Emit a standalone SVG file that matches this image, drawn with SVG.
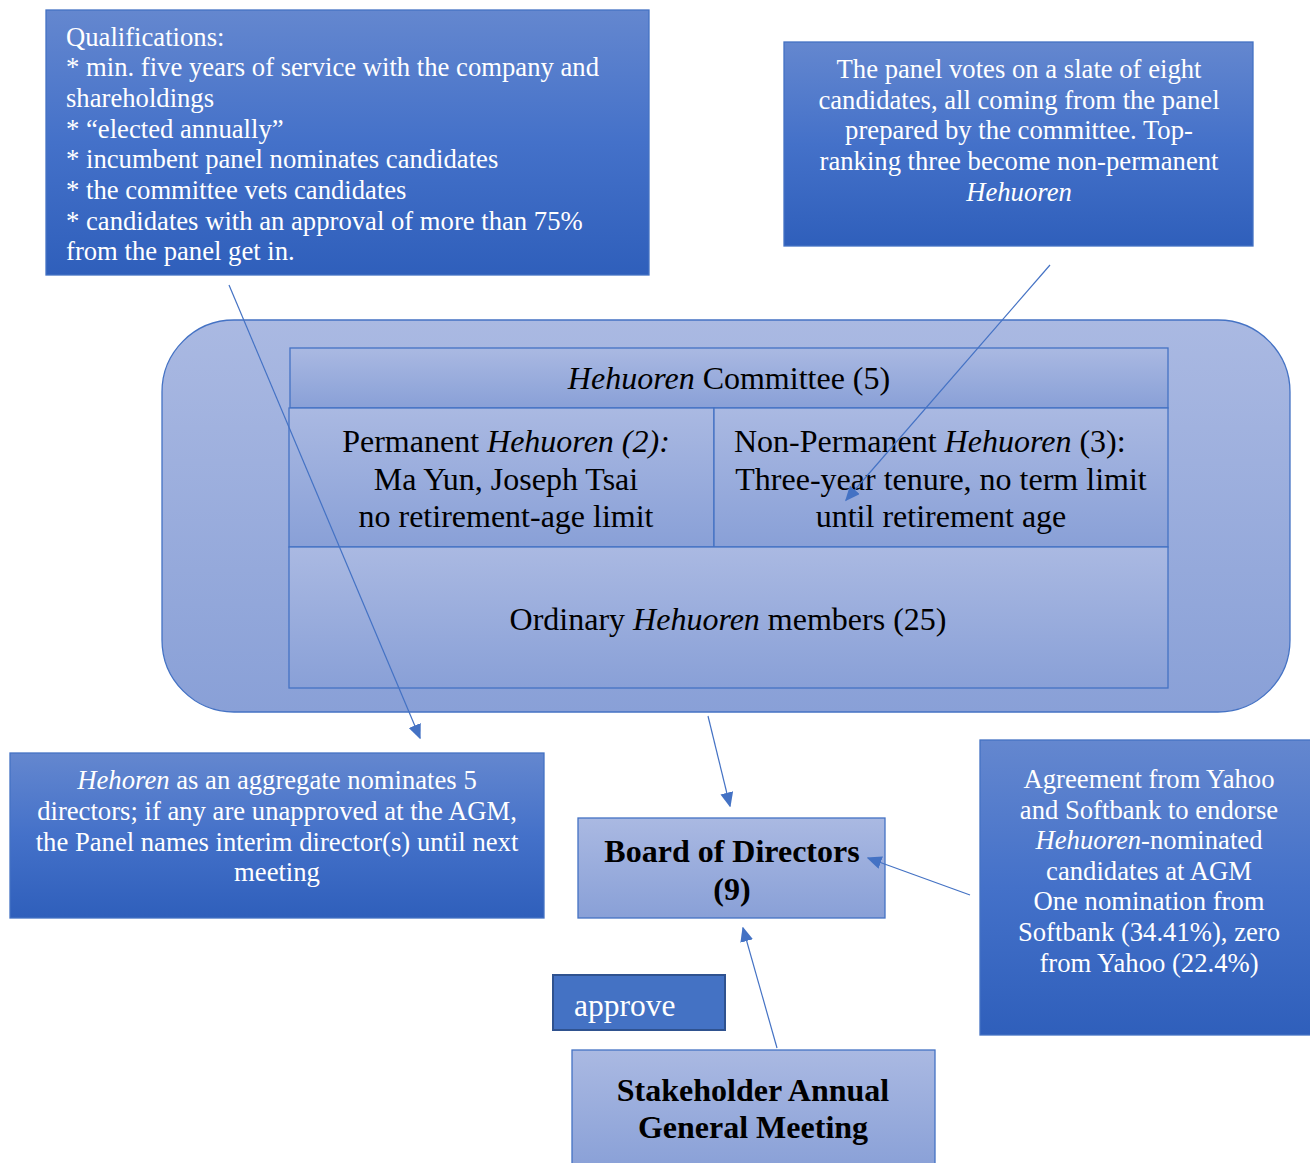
<svg xmlns="http://www.w3.org/2000/svg" width="1310" height="1163" viewBox="0 0 1310 1163">
  <defs>
    <linearGradient id="gDark" x1="0" y1="0" x2="0" y2="1">
      <stop offset="0" stop-color="#6487cf"/>
      <stop offset="0.5" stop-color="#4471c9"/>
      <stop offset="1" stop-color="#2f5fbb"/>
    </linearGradient>
    <linearGradient id="gLight" x1="0" y1="0" x2="0" y2="1">
      <stop offset="0" stop-color="#aab9e2"/>
      <stop offset="1" stop-color="#89a0d7"/>
    </linearGradient>
    <marker id="arrow" viewBox="0 0 10 10" refX="9" refY="5" markerWidth="15" markerHeight="13" markerUnits="userSpaceOnUse" orient="auto" preserveAspectRatio="none">
      <path d="M0,0 L10,5 L0,10 z" fill="#4472c4"/>
    </marker>
    <style>
      .dark { fill: url(#gDark); stroke: #4472c4; stroke-width: 1.3; }
      .light { fill: url(#gLight); stroke: #4472c4; stroke-width: 1.3; }
      .wt { font-family: "Liberation Serif", "Times New Roman", serif; font-size: 26.67px; fill: #ffffff; }
      .bk { font-family: "Liberation Serif", "Times New Roman", serif; font-size: 32px; fill: #000000; }
      .bb { font-family: "Liberation Serif", "Times New Roman", serif; font-size: 32px; font-weight: bold; fill: #000000; }
      .mid { text-anchor: middle; }
      .it { font-style: italic; }
      .conn { stroke: #4472c4; stroke-width: 1.2; fill: none; marker-end: url(#arrow); }
    </style>
  </defs>

  <rect width="1310" height="1163" fill="#ffffff"/>

  <!-- qualifications callout -->
  <g id="qualifications">
    <rect class="dark" x="46" y="10" width="603" height="265"/>
    <text class="wt" x="66" y="46">Qualifications:</text>
    <text class="wt" x="66" y="76">* min. five years of service with the company and</text>
    <text class="wt" x="66" y="107">shareholdings</text>
    <text class="wt" x="66" y="138">* “elected annually”</text>
    <text class="wt" x="66" y="168">* incumbent panel nominates candidates</text>
    <text class="wt" x="66" y="199">* the committee vets candidates</text>
    <text class="wt" x="66" y="230">* candidates with an approval of more than 75%</text>
    <text class="wt" x="66" y="260">from the panel get in.</text>
  </g>

  <!-- panel vote callout -->
  <g id="panel-vote">
    <rect class="dark" x="784" y="42" width="469" height="204"/>
    <text class="wt mid" x="1019" y="78">The panel votes on a slate of eight</text>
    <text class="wt mid" x="1019" y="109">candidates, all coming from the panel</text>
    <text class="wt mid" x="1019" y="139">prepared by the committee. Top-</text>
    <text class="wt mid" x="1019" y="170">ranking three become non-permanent</text>
    <text class="wt mid it" x="1019" y="201">Hehuoren</text>
  </g>

  <!-- Hehuoren panel container -->
  <g id="hehuoren-panel">
    <rect class="light" x="162" y="320" width="1128" height="392" rx="72" ry="72"/>
  </g>

  <g id="committee">
    <rect class="light" x="290" y="348" width="878" height="60"/>
    <text class="bk mid" x="729" y="389"><tspan class="it">Hehuoren</tspan> Committee (5)</text>
  </g>

  <g id="permanent">
    <rect class="light" x="289" y="408" width="425" height="139"/>
    <text class="bk mid" x="506" y="452">Permanent <tspan class="it">Hehuoren (2):</tspan></text>
    <text class="bk mid" x="506" y="490">Ma Yun, Joseph Tsai</text>
    <text class="bk mid" x="506" y="527">no retirement-age limit</text>
  </g>

  <g id="non-permanent">
    <rect class="light" x="714" y="408" width="454" height="139"/>
    <text class="bk" x="734" y="452">Non-Permanent <tspan class="it">Hehuoren</tspan> (3):</text>
    <text class="bk mid" x="941" y="490">Three-year tenure, no term limit</text>
    <text class="bk mid" x="941" y="527">until retirement age</text>
  </g>

  <g id="ordinary">
    <rect class="light" x="289" y="547" width="879" height="141"/>
    <text class="bk mid" x="728" y="630">Ordinary <tspan class="it">Hehuoren</tspan> members (25)</text>
  </g>

  <!-- nomination callout -->
  <g id="nomination">
    <rect class="dark" x="10" y="753" width="534" height="165"/>
    <text class="wt mid" x="277" y="789"><tspan class="it">Hehoren</tspan> as an aggregate nominates 5</text>
    <text class="wt mid" x="277" y="820">directors; if any are unapproved at the AGM,</text>
    <text class="wt mid" x="277" y="851">the Panel names interim director(s) until next</text>
    <text class="wt mid" x="277" y="881">meeting</text>
  </g>

  <!-- board -->
  <g id="board">
    <rect class="light" x="578" y="818" width="307" height="100"/>
    <text class="bb mid" x="732" y="862">Board of Directors</text>
    <text class="bb mid" x="732" y="900">(9)</text>
  </g>

  <!-- shareholder agreement callout -->
  <g id="agreement">
    <rect class="dark" x="980" y="740" width="332" height="295"/>
    <text class="wt mid" x="1149" y="788">Agreement from Yahoo</text>
    <text class="wt mid" x="1149" y="819">and Softbank to endorse</text>
    <text class="wt mid" x="1149" y="849"><tspan class="it">Hehuoren</tspan>-nominated</text>
    <text class="wt mid" x="1149" y="880">candidates at AGM</text>
    <text class="wt mid" x="1149" y="910">One nomination from</text>
    <text class="wt mid" x="1149" y="941">Softbank (34.41%), zero</text>
    <text class="wt mid" x="1149" y="972">from Yahoo (22.4%)</text>
  </g>

  <!-- approve label -->
  <g id="approve">
    <rect x="553" y="975" width="172" height="55" fill="#4472c4" stroke="#2f528f" stroke-width="2"/>
    <text class="wt" x="574" y="1016" style="font-size:31.5px">approve</text>
  </g>

  <!-- AGM -->
  <g id="agm">
    <rect class="light" x="572" y="1050" width="363" height="120"/>
    <text class="bb mid" x="753" y="1101">Stakeholder Annual</text>
    <text class="bb mid" x="753" y="1138">General Meeting</text>
  </g>

  <!-- connectors -->
  <g id="connectors">
    <line class="conn" x1="229" y1="285" x2="420" y2="738"/>
    <line class="conn" x1="1050" y1="265" x2="846" y2="500"/>
    <line class="conn" x1="708" y1="716" x2="730" y2="806"/>
    <line class="conn" x1="970" y1="895" x2="868" y2="858"/>
    <line class="conn" x1="777" y1="1048" x2="743" y2="928"/>
  </g>
</svg>
